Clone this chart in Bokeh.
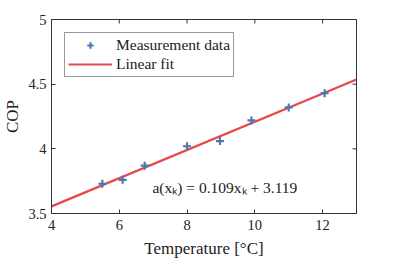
import math
from bokeh.plotting import figure
from bokeh.models import FixedTicker, Range1d, Legend, LegendItem, Label
from bokeh.embed import file_html
from bokeh.resources import INLINE

# Data
temperature = [5.5, 6.1, 6.75, 8.0, 8.97, 9.9, 11.0, 12.06]
cop = [3.73, 3.76, 3.87, 4.02, 4.06, 4.22, 4.32, 4.43]
slope = 0.109
intercept = 3.119
x_ticks = [4, 6, 8, 10, 12]
y_ticks = [3.5, 4, 4.5, 5]
y_tick_labels = ["3.5", "4", "4.5", "5"]
fit_label = "a(xₖ) = 0.109xₖ + 3.119"

FONT = "Liberation Serif"
AX = "#333333"
BLUE = "#4a7ab0"
RED = "#e8474c"

x0, x1 = 4, 13
y0, y1 = 3.5, 5

p = figure(width=393, height=260, output_backend="svg", toolbar_location=None,
           x_range=Range1d(x0, x1), y_range=Range1d(y0, y1),
           min_border_left=51, min_border_right=37, min_border_top=19, min_border_bottom=46)
p.grid.visible = False
p.background_fill_color = "white"
p.border_fill_color = "white"
p.outline_line_color = AX
p.outline_line_width = 1

fit_x = [x0, x1]
fit_y = [slope * v + intercept for v in fit_x]
r_fit = p.line(fit_x, fit_y, line_color=RED, line_width=2.2)
r_pts = p.scatter(temperature, cop, marker="cross", size=8, line_width=2.2, line_color=BLUE)

# inward ticks on the top and right edges (outer half clipped by the frame)
p.scatter(x_ticks, [y1] * len(x_ticks), marker="dash", angle=math.pi / 2, size=8,
          line_color=AX, line_width=1)
p.scatter([x1] * len(y_ticks), y_ticks, marker="dash", size=8,
          line_color=AX, line_width=1)

def style_axis(ax):
    ax.axis_line_color = AX
    ax.major_tick_line_color = AX
    ax.major_tick_in = 4
    ax.major_tick_out = 0
    ax.minor_tick_line_color = None
    ax.major_label_text_font = FONT
    ax.major_label_text_font_size = "14.5px"
    ax.major_label_text_color = "#222222"
    ax.axis_label_text_font = FONT
    ax.axis_label_text_font_size = "17px"
    ax.axis_label_text_font_style = "normal"
    ax.axis_label_text_color = "#222222"

xa = p.xaxis[0]
xa.ticker = FixedTicker(ticks=x_ticks)
xa.axis_label = "Temperature [°C]"
style_axis(xa)
xa.major_label_standoff = 6
xa.axis_label_standoff = 6

ya = p.yaxis[0]
ya.ticker = FixedTicker(ticks=y_ticks)
ya.major_label_overrides = {t: l for t, l in zip(y_ticks, y_tick_labels)}
ya.axis_label = "COP"
style_axis(ya)
ya.major_label_standoff = 5
ya.axis_label_standoff = 3

legend = Legend(items=[LegendItem(label="Measurement data", renderers=[r_pts]),
                       LegendItem(label="Linear fit", renderers=[r_fit])],
                location="top_left", margin=13, padding=3, spacing=1,
                glyph_width=44, glyph_height=16, label_height=16, label_standoff=4,
                label_text_font=FONT, label_text_font_size="15.5px",
                label_text_color="#222222",
                border_line_color=AX, border_line_width=1,
                background_fill_alpha=1)
p.add_layout(legend)

p.add_layout(Label(x=6.98, y=3.70, text=fit_label, text_font=FONT,
                   text_font_size="15.5px", text_baseline="middle", text_color="#222222"))

open("out.html", "w").write(file_html(p, INLINE))
